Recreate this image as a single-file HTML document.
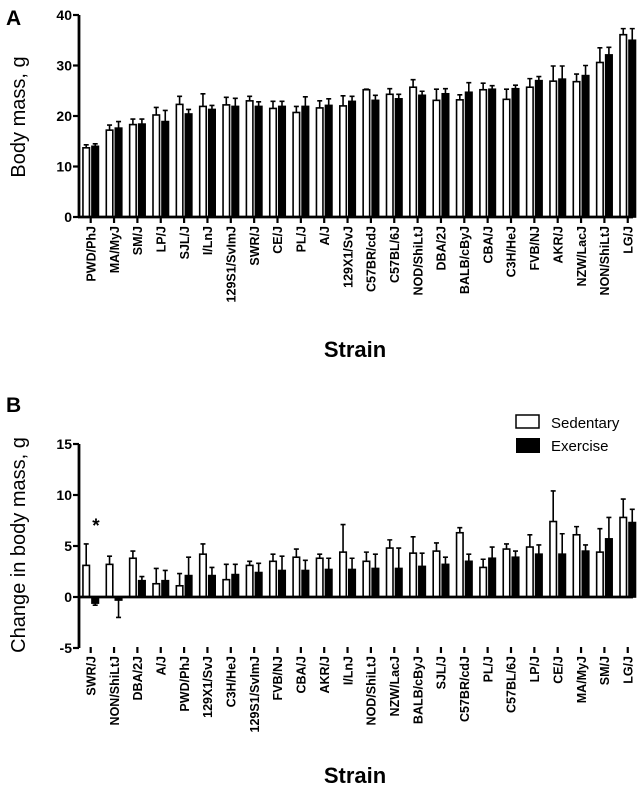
<!DOCTYPE html>
<html><head><meta charset="utf-8"><style>
html,body{margin:0;background:#fff;overflow:hidden;width:637px;height:790px}
svg text{font-family:"Liberation Sans",Arial,sans-serif}
</style></head><body>
<div style="position:relative;width:637px;height:790px">
<svg id="c" width="637" height="790" style="position:absolute;left:0;top:0" xmlns="http://www.w3.org/2000/svg">
<text x="6" y="25" font-size="21" font-weight="bold">A</text>
<text x="6" y="412" font-size="21" font-weight="bold">B</text>
<text transform="translate(25,117) rotate(-90)" text-anchor="middle" font-size="20">Body mass, g</text>
<text transform="translate(25,545) rotate(-90)" text-anchor="middle" font-size="20">Change in body mass, g</text>
<text x="355" y="357" text-anchor="middle" font-size="22" font-weight="bold">Strain</text>
<text x="355" y="783" text-anchor="middle" font-size="22" font-weight="bold">Strain</text>
<text x="96" y="532" text-anchor="middle" font-size="19" font-weight="bold">*</text>
<g>
<rect x="516" y="415" width="23" height="13" fill="#fff" stroke="#000" stroke-width="1.5"/>
<text x="551" y="428" font-size="15">Sedentary</text>
<rect x="516" y="438" width="24" height="15" fill="#000"/>
<text x="551" y="451" font-size="15">Exercise</text>
</g>
</svg>
</div>
<script>
const strainsA=["PWD/PhJ","MA/MyJ","SM/J","LP/J","SJL/J","I/LnJ","129S1/SvImJ","SWR/J","CE/J","PL/J","A/J","129X1/SvJ","C57BR/cdJ","C57BL/6J","NOD/ShiLtJ","DBA/2J","BALB/cByJ","CBA/J","C3H/HeJ","FVB/NJ","AKR/J","NZW/LacJ","NON/ShiLtJ","LG/J"];
const sedA=[13.7,17.2,18.3,20.2,22.3,21.9,22.2,23.0,21.5,20.7,21.6,22.0,25.2,24.3,25.7,23.1,23.2,25.2,23.3,25.7,26.9,26.8,30.6,36.1];
const sedAerr=[0.6,1.0,1.1,1.5,1.6,2.5,1.5,0.9,1.4,1.2,1.4,2.0,0.1,1.1,1.5,2.2,1.0,1.3,2.0,1.7,3.0,1.5,2.9,1.2];
const exA=[14.0,17.6,18.4,18.9,20.4,21.3,21.9,21.9,21.9,21.9,22.1,22.9,23.1,23.4,24.1,24.4,24.7,25.3,25.4,27.0,27.3,28.0,32.1,35.0];
const exAerr=[0.5,1.3,1.0,2.2,0.9,0.8,1.6,0.9,1.0,1.9,1.3,1.0,1.0,0.9,0.8,1.0,1.9,0.7,0.7,0.8,2.6,2.0,1.5,2.3];
const strainsB=["SWR/J","NON/ShiLtJ","DBA/2J","A/J","PWD/PhJ","129X1/SvJ","C3H/HeJ","129S1/SvImJ","FVB/NJ","CBA/J","AKR/J","I/LnJ","NOD/ShiLtJ","NZW/LacJ","BALB/cByJ","SJL/J","C57BR/cdJ","PL/J","C57BL/6J","LP/J","CE/J","MA/MyJ","SM/J","LG/J"];
const sedB=[3.1,3.2,3.8,1.3,1.1,4.2,1.7,3.1,3.5,3.9,3.8,4.4,3.5,4.8,4.3,4.5,6.3,2.9,4.7,4.9,7.4,6.1,4.4,7.8];
const sedBerr=[2.1,0.8,0.7,1.5,1.2,1.0,1.5,0.4,0.7,0.8,0.4,2.7,0.9,0.8,1.6,0.8,0.5,0.8,0.5,1.2,3.0,0.8,2.3,1.8];
const exB=[-0.6,-0.3,1.6,1.6,2.1,2.1,2.2,2.4,2.6,2.6,2.7,2.7,2.8,2.8,3.0,3.2,3.5,3.8,3.9,4.2,4.2,4.5,5.7,7.3];
const exBerr=[0.2,1.7,0.4,1.0,1.8,0.8,1.0,0.9,1.4,1.0,1.1,1.1,1.4,2.0,1.3,0.7,0.7,1.1,0.6,0.9,2.0,0.6,2.1,1.3];
const ticksA=[0,10,20,30,40];
const ticksB=[-5,0,5,10,15];

const svg=document.getElementById('c');
const NS="http://www.w3.org/2000/svg";
function mk(t,a,parent){const e=document.createElementNS(NS,t);for(const k in a)e.setAttribute(k,a[k]);(parent||svg).appendChild(e);return e;}
const xc=i=>90.7+23.35*i;
const yA=v=>217-v*5.05;
const yB=v=>597-v*10.2;

function panel(strains,sed,sedE,ex,exE,ticks,yf,yMin,yMax,axisBottom,zeroY,name){
  const g=mk('g',{});
  
  
  strains.forEach((s,i)=>{
    const c=xc(i);
    [[sed,sedE,c-8.5,'#fff','sedentary'],[ex,exE,c+0.5,'#000','exercise']].forEach(([vals,errs,x,fill,nm])=>{
      const v=vals[i],e=errs[i];
      const y0=yf(0),y1=yf(v);
      const r=mk('rect',{x:x+0.75,y:Math.min(y0,y1),width:6.5,height:Math.abs(y1-y0),fill:fill,stroke:'#000','stroke-width':1.6},g);
      
      
      const ye=yf(v+(v>=0?e:-e));
      const cx=x+4;
      const l=mk('path',{d:`M${cx},${y1}V${ye}M${cx-2.5},${ye}H${cx+2.5}`,stroke:'#000','stroke-width':1.6,fill:'none'},g);
      
      
    });
    mk('line',{x1:c,x2:c,y1:axisBottom,y2:axisBottom+6,stroke:'#000','stroke-width':2.2},g);
    const t=mk('text',{x:0,y:0,transform:`translate(${c+4.7},${axisBottom+9}) rotate(-90)`,'text-anchor':'end','font-size':'12.5','font-weight':'bold'},g);
    t.textContent=s;
    
    
  });
  mk('line',{x1:79,x2:79,y1:yf(yMax),y2:axisBottom+1,stroke:'#000','stroke-width':2.8},g);
  mk('line',{x1:78,x2:633,y1:zeroY,y2:zeroY,stroke:'#000','stroke-width':2.8},g);
  ticks.forEach(v=>{
    mk('line',{x1:73,x2:79,y1:yf(v),y2:yf(v),stroke:'#000','stroke-width':2.2},g);
    const t=mk('text',{x:72,y:yf(v)+5,'text-anchor':'end','font-size':'14','font-weight':'bold'},g);
    t.textContent=v;
    
    
  });
}
panel(strainsA,sedA,sedAerr,exA,exAerr,ticksA,yA,0,40,217,217,'panel-a');
panel(strainsB,sedB,sedBerr,exB,exBerr,ticksB,yB,-5,15,647,597,'panel-b');
</script>
</body></html>
